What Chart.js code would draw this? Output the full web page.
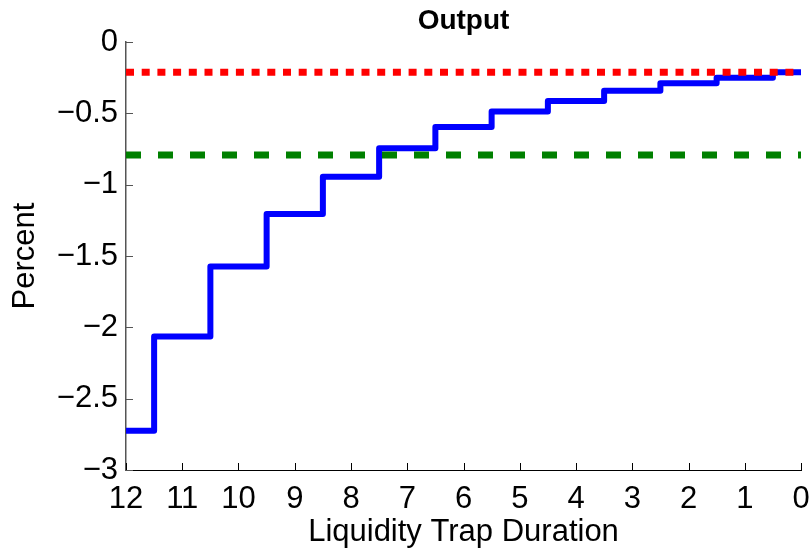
<!DOCTYPE html>
<html>
<head>
<meta charset="utf-8">
<script src="https://cdn.jsdelivr.net/npm/chart.js@4/dist/chart.umd.min.js"></script>
<style>
  html, body { margin: 0; padding: 0; background: #fff; }
  #wrap { width: 811px; height: 553px; }
</style>
</head>
<body>
<div id="wrap"><canvas id="chart"></canvas></div>
<script>
// duration (quarters) and output response
var durations = [12, 11, 10, 9, 8, 7, 6, 5, 4, 3, 2, 1, 0];
var output = [-2.725, -2.064, -1.574, -1.205, -0.944, -0.745, -0.595, -0.488, -0.413, -0.341, -0.29, -0.25, -0.212];
var redLevel = -0.212;
var greenLevel = -0.792;
var xTicks = [12, 11, 10, 9, 8, 7, 6, 5, 4, 3, 2, 1, 0];
var yTicks = [0, -0.5, -1, -1.5, -2, -2.5, -3];

var font = "'Liberation Sans', Arial, Helvetica, sans-serif";

function fmt(v) {
  return String(v).replace('-', '\u2212');
}

var stepData = durations.map(function(d, i) { return { x: d, y: output[i] }; });
var span = [durations[0], durations[durations.length - 1]];

// matlab style ticks pointing into the plot
var inwardTicks = {
  id: 'inwardTicks',
  afterDraw: function(chart) {
    var ctx = chart.ctx;
    var xs = chart.scales.x, ys = chart.scales.y;
    var area = chart.chartArea;
    ctx.save();
    ctx.lineWidth = 1;
    ctx.strokeStyle = '#000';
    ctx.beginPath();
    xs.ticks.forEach(function(t) {
      var px = Math.round(xs.getPixelForValue(t.value)) + 0.5;
      ctx.moveTo(px, area.bottom);
      ctx.lineTo(px, area.bottom - 7);
    });
    ctx.stroke();
    ctx.strokeStyle = '#555';
    ctx.beginPath();
    ys.ticks.forEach(function(t) {
      var py = Math.round(ys.getPixelForValue(t.value)) + 0.5;
      ctx.moveTo(area.left, py);
      ctx.lineTo(area.left + 7, py);
    });
    ctx.stroke();
    ctx.restore();
  }
};

new Chart(document.getElementById('chart'), {
  type: 'line',
  data: {
    datasets: [{
      data: stepData,
      borderColor: '#0000ff',
      borderWidth: 6,
      stepped: 'middle',
      pointRadius: 0,
      borderJoinStyle: 'round',
      borderCapStyle: 'butt',
      order: 3
    }, {
      data: span.map(function(x) { return { x: x, y: greenLevel }; }),
      borderColor: '#008000',
      borderWidth: 7,
      borderDash: [15, 17],
      pointRadius: 0,
      order: 2
    }, {
      data: span.map(function(x) { return { x: x, y: redLevel }; }),
      borderColor: '#ff0000',
      borderWidth: 7,
      borderDash: [8, 7.7],
      pointRadius: 0,
      order: 1
    }]
  },
  options: {
    responsive: true,
    maintainAspectRatio: false,
    animation: false,
    layout: { padding: { left: 0, right: 10, top: 0, bottom: 0 } },
    plugins: {
      legend: { display: false },
      tooltip: { enabled: false },
      title: {
        display: true,
        fullSize: false,
        text: 'Output',
        color: '#000',
        font: { family: font, size: 28, weight: 'bold' },
        padding: { top: 4, bottom: 4.4 }
      }
    },
    scales: {
      x: {
        type: 'linear',
        reverse: true,
        min: 0,
        max: 12,
        afterBuildTicks: function(scale) {
          scale.ticks = xTicks.map(function(v) { return { value: v }; });
        },
        afterFit: function(scale) {
          scale.height = 83;
          scale.paddingLeft = 0;
          scale.paddingRight = 9;
        },
        border: { color: '#000', width: 1 },
        grid: { drawOnChartArea: false, drawTicks: false },
        ticks: {
          color: '#000',
          padding: 11,
          maxRotation: 0,
          autoSkip: false,
          font: { family: font, size: 31 }
        },
        title: {
          display: true,
          text: 'Liquidity Trap Duration',
          color: '#000',
          font: { family: font, size: 31 },
          padding: { top: 0, bottom: 2 }
        }
      },
      y: {
        min: -3,
        max: 0,
        afterBuildTicks: function(scale) {
          scale.ticks = yTicks.map(function(v) { return { value: v }; });
        },
        afterFit: function(scale) { scale.width = 126; },
        border: { color: '#555', width: 1.5 },
        grid: { drawOnChartArea: false, drawTicks: false },
        ticks: {
          color: '#000',
          padding: 8,
          autoSkip: false,
          font: { family: font, size: 31 },
          callback: function(v) { return fmt(v); }
        },
        title: {
          display: true,
          text: 'Percent',
          color: '#000',
          font: { family: font, size: 31 },
          padding: { top: 7, bottom: 0 }
        }
      }
    }
  },
  plugins: [inwardTicks]
});
</script>
</body>
</html>
